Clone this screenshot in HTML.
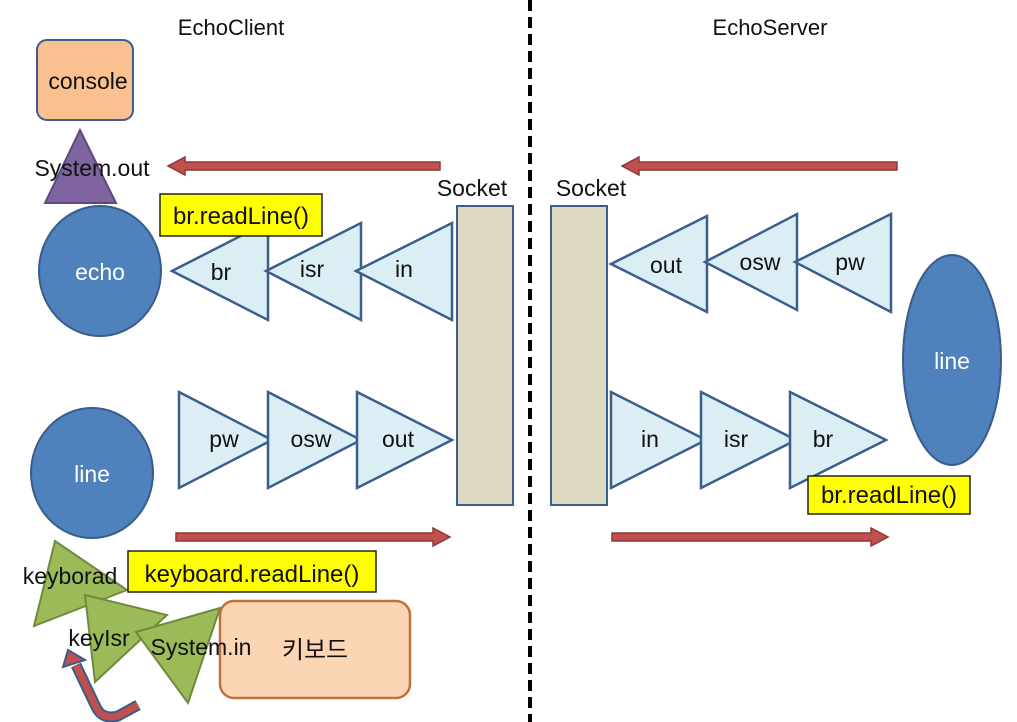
<!DOCTYPE html>
<html><head><meta charset="utf-8"><style>
body{margin:0;background:#fff}
svg{display:block}
text{font-family:"Liberation Sans","Noto Sans CJK KR",sans-serif}
</style></head><body>
<svg width="1017" height="722" viewBox="0 0 1017 722" xmlns="http://www.w3.org/2000/svg">
<line x1="530" y1="0" x2="530" y2="722" stroke="#000" stroke-width="4" stroke-dasharray="11,6"/>
<text x="231" y="35" font-size="22" text-anchor="middle" fill="#111">EchoClient</text>
<text x="770" y="35" font-size="22" text-anchor="middle" fill="#111">EchoServer</text>

<rect x="37" y="40" width="96" height="80" rx="10" fill="#fac090" stroke="#3b5e8c" stroke-width="2"/>
<text x="88" y="89" font-size="23" text-anchor="middle" fill="#111">console</text>
<polygon points="80,130 45,203 116,203" fill="#8064a2" stroke="#5c4a7a" stroke-width="2"/>

<g fill="#c0504d" stroke="#8c3836" stroke-width="1.5">
<polygon points="440,162 185,162 185,157 168,166 185,175 185,170 440,170"/>
<polygon points="897,162 639,162 639,157 622,166 639,175 639,170 897,170"/>
<polygon points="176,533 433,533 433,528 450,537 433,546 433,541 176,541"/>
<polygon points="612,533 871,533 871,528 888,537 871,546 871,541 612,541"/>
</g>

<ellipse cx="100" cy="271" rx="61" ry="65" fill="#4f81bd" stroke="#385d8a" stroke-width="2"/>
<text x="100" y="280" font-size="23" text-anchor="middle" fill="#fff">echo</text>
<ellipse cx="92" cy="473" rx="61" ry="65" fill="#4f81bd" stroke="#385d8a" stroke-width="2"/>
<text x="92" y="482" font-size="23" text-anchor="middle" fill="#fff">line</text>
<ellipse cx="952" cy="360" rx="49" ry="105" fill="#4f81bd" stroke="#385d8a" stroke-width="2"/>
<text x="952" y="369" font-size="23" text-anchor="middle" fill="#fff">line</text>

<g fill="#dbeef4" stroke="#3b5e8c" stroke-width="2.5">
<polygon points="172,271 268,222 268,320"/>
<polygon points="266,271 361,223 361,320"/>
<polygon points="356,271 452,223 452,320"/>
<polygon points="611,264 707,216 707,312"/>
<polygon points="705,262 797,214 797,310"/>
<polygon points="795,262 891,214 891,312"/>
<polygon points="179,392 272,440 179,488"/>
<polygon points="268,392 361,440 268,488"/>
<polygon points="357,392 452,440 357,488"/>
<polygon points="611,392 706,440 611,488"/>
<polygon points="701,392 796,440 701,488"/>
<polygon points="790,392 886,440 790,488"/>
</g>
<g font-size="23" text-anchor="middle" fill="#111">
<text x="221" y="280">br</text><text x="312" y="277">isr</text><text x="404" y="277">in</text>
<text x="666" y="273">out</text><text x="760" y="270">osw</text><text x="850" y="270">pw</text>
<text x="224" y="447">pw</text><text x="311" y="447">osw</text><text x="398" y="447">out</text>
<text x="650" y="447">in</text><text x="736" y="447">isr</text><text x="823" y="447">br</text>
</g>

<rect x="160" y="194" width="162" height="42" fill="#ffff00" stroke="#222" stroke-width="1.5"/>
<text x="241" y="224" font-size="24" text-anchor="middle" fill="#111">br.readLine()</text>
<rect x="808" y="476" width="162" height="38" fill="#ffff00" stroke="#222" stroke-width="1.5"/>
<text x="889" y="503" font-size="24" text-anchor="middle" fill="#111">br.readLine()</text>

<text x="472" y="196" font-size="23" text-anchor="middle" fill="#111">Socket</text>
<text x="591" y="196" font-size="23" text-anchor="middle" fill="#111">Socket</text>
<rect x="457" y="206" width="56" height="299" fill="#ddd9c3" stroke="#3b5e8c" stroke-width="2"/>
<rect x="551" y="206" width="56" height="299" fill="#ddd9c3" stroke="#3b5e8c" stroke-width="2"/>

<g fill="#9bbb59" stroke="#71893f" stroke-width="2">
<polygon points="55,541 127,590 34,626"/>
<polygon points="85,595 167,615 95,682"/>
<polygon points="136,632 220,608 188,703"/>
</g>
<rect x="128" y="551" width="248" height="41" fill="#ffff00" stroke="#222" stroke-width="1.5"/>
<text x="252" y="582" font-size="24" text-anchor="middle" fill="#111">keyboard.readLine()</text>
<rect x="220" y="601" width="190" height="97" rx="14" fill="#fcd5b5" stroke="#c0713a" stroke-width="2.5"/>
<text x="315" y="658" font-size="24" text-anchor="middle" fill="#111">키보드</text>

<path d="M138,705 L118,716 Q102,720 96,707 L76,665" fill="none" stroke="#385d8a" stroke-width="11"/>
<path d="M138,705 L118,716 Q102,720 96,707 L76,665" fill="none" stroke="#c0504d" stroke-width="7"/>
<polygon points="63,667 68,650 85,660" fill="#c0504d" stroke="#385d8a" stroke-width="2"/>

<g font-size="23" text-anchor="middle" fill="#111">
<text x="92" y="176">System.out</text>
<text x="70" y="584">keyborad</text>
<text x="99" y="646">keyIsr</text>
<text x="201" y="655">System.in</text>
</g>
</svg>
</body></html>
